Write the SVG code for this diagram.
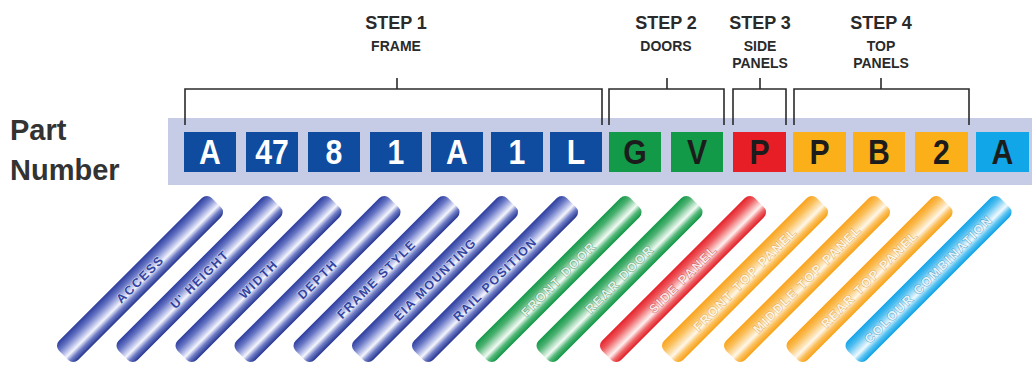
<svg xmlns="http://www.w3.org/2000/svg" width="1032" height="367" viewBox="0 0 1032 367">
<style>
  .lbl{font-family:"Liberation Sans",Arial,sans-serif;font-weight:bold;fill:#2a2a2a;text-anchor:middle}
  .step{font-size:18px}
  .sub{font-size:14px}
  .pn{font-family:"Liberation Sans",Arial,sans-serif;font-weight:bold;font-size:29px;fill:#333}
  .bx{font-family:"Liberation Sans",Arial,sans-serif;font-weight:bold;font-size:36px;text-anchor:middle}
  .w{fill:#ffffff}
  .k{fill:#1c1c1c}
  .tt{font-family:"Liberation Sans",Arial,sans-serif;font-weight:bold;font-size:12.5px;letter-spacing:1.6px;text-anchor:middle;paint-order:stroke}
  .tb{fill:#3444a0;stroke:#dde1f6;stroke-width:0.9px}
  .tc{fill:#ffffff;fill-opacity:0.8;stroke-opacity:0.6;stroke-width:1px}
  .br{fill:none;stroke:#2b2b2b;stroke-width:1.6}
</style>
<defs>
  <rect id="tube" x="-108" y="-13.5" width="216" height="27" rx="7"/>
  <linearGradient id="gB" x1="0" y1="0" x2="0" y2="1">
    <stop offset="0" stop-color="#2d3d9e"/><stop offset="0.25" stop-color="#6675c4"/>
    <stop offset="0.5" stop-color="#c4caee"/><stop offset="0.62" stop-color="#f4f5fc"/>
    <stop offset="0.8" stop-color="#6f7cc6"/><stop offset="1" stop-color="#25358f"/>
  </linearGradient>
  <linearGradient id="gG" x1="0" y1="0" x2="0" y2="1">
    <stop offset="0" stop-color="#14994a"/><stop offset="0.25" stop-color="#4db272"/>
    <stop offset="0.5" stop-color="#bfe5cc"/><stop offset="0.62" stop-color="#f2faf4"/>
    <stop offset="0.8" stop-color="#55b87a"/><stop offset="1" stop-color="#109444"/>
  </linearGradient>
  <linearGradient id="gR" x1="0" y1="0" x2="0" y2="1">
    <stop offset="0" stop-color="#e5222a"/><stop offset="0.25" stop-color="#ee5a5e"/>
    <stop offset="0.5" stop-color="#f8c2c2"/><stop offset="0.62" stop-color="#fef0f0"/>
    <stop offset="0.8" stop-color="#ef6a6c"/><stop offset="1" stop-color="#e11c24"/>
  </linearGradient>
  <linearGradient id="gO" x1="0" y1="0" x2="0" y2="1">
    <stop offset="0" stop-color="#f9a31c"/><stop offset="0.25" stop-color="#fbbd55"/>
    <stop offset="0.5" stop-color="#fde3b4"/><stop offset="0.62" stop-color="#fff7ea"/>
    <stop offset="0.8" stop-color="#fbc160"/><stop offset="1" stop-color="#f8a014"/>
  </linearGradient>
  <linearGradient id="gC" x1="0" y1="0" x2="0" y2="1">
    <stop offset="0" stop-color="#12a4e8"/><stop offset="0.25" stop-color="#52bff0"/>
    <stop offset="0.5" stop-color="#bfe7fa"/><stop offset="0.62" stop-color="#eef9fe"/>
    <stop offset="0.8" stop-color="#5ac3f1"/><stop offset="1" stop-color="#0e9fe4"/>
  </linearGradient>
</defs>
<rect width="1032" height="367" fill="#ffffff"/>

<g id="labels">
  <text class="lbl step" x="396" y="28.5">STEP 1</text>
  <text class="lbl sub" x="396" y="51">FRAME</text>
  <text class="lbl step" x="666" y="28.5">STEP 2</text>
  <text class="lbl sub" x="666" y="51">DOORS</text>
  <text class="lbl step" x="760" y="28.5">STEP 3</text>
  <text class="lbl sub" x="760" y="51">SIDE</text>
  <text class="lbl sub" x="760" y="68">PANELS</text>
  <text class="lbl step" x="881" y="28.5">STEP 4</text>
  <text class="lbl sub" x="881" y="51">TOP</text>
  <text class="lbl sub" x="881" y="68">PANELS</text>
  <text class="pn" x="10" y="140">Part</text>
  <text class="pn" x="10" y="180">Number</text>
</g>

<rect id="band" x="168" y="118" width="864" height="67" fill="#c6cbe6"/>

<g id="connectors">
  <path class="br" d="M185,125 V89 H602 V125 M397,89 V78"/>
  <path class="br" d="M609,125 V89 H724 V125 M667,89 V78"/>
  <path class="br" d="M733,125 V89 H786 V125 M760,89 V78"/>
  <path class="br" d="M794,125 V89 H969 V125 M881,89 V78"/>
</g>

<g id="box1"><rect x="184" y="132" width="52" height="40" fill="#0f4ca0"/><text class="bx w" transform="translate(210,164) scale(0.84,1)">A</text></g>
<g id="box2"><rect x="246" y="132" width="52" height="40" fill="#0f4ca0"/><text class="bx w" transform="translate(272,164) scale(0.84,1)">47</text></g>
<g id="box3"><rect x="308" y="132" width="52" height="40" fill="#0f4ca0"/><text class="bx w" transform="translate(334,164) scale(0.84,1)">8</text></g>
<g id="box4"><rect x="370" y="132" width="52" height="40" fill="#0f4ca0"/><text class="bx w" transform="translate(396,164) scale(0.84,1)">1</text></g>
<g id="box5"><rect x="431" y="132" width="52" height="40" fill="#0f4ca0"/><text class="bx w" transform="translate(457,164) scale(0.84,1)">A</text></g>
<g id="box6"><rect x="491" y="132" width="52" height="40" fill="#0f4ca0"/><text class="bx w" transform="translate(517,164) scale(0.84,1)">1</text></g>
<g id="box7"><rect x="550" y="132" width="52" height="40" fill="#0f4ca0"/><text class="bx w" transform="translate(576,164) scale(0.84,1)">L</text></g>
<g id="box8"><rect x="609" y="132" width="52" height="40" fill="#139a48"/><text class="bx k" transform="translate(635,164) scale(0.84,1)">G</text></g>
<g id="box9"><rect x="671" y="132" width="52" height="40" fill="#139a48"/><text class="bx k" transform="translate(697,164) scale(0.84,1)">V</text></g>
<g id="box10"><rect x="733" y="132" width="53" height="40" fill="#e81e26"/><text class="bx k" transform="translate(759.5,164) scale(0.84,1)">P</text></g>
<g id="box11"><rect x="793" y="132" width="53" height="40" fill="#fbb01a"/><text class="bx k" transform="translate(819.5,164) scale(0.84,1)">P</text></g>
<g id="box12"><rect x="853" y="132" width="52" height="40" fill="#fbb01a"/><text class="bx k" transform="translate(879,164) scale(0.84,1)">B</text></g>
<g id="box13"><rect x="915" y="132" width="53" height="40" fill="#fbb01a"/><text class="bx k" transform="translate(941.5,164) scale(0.84,1)">2</text></g>
<g id="box14"><rect x="976" y="132" width="53" height="40" fill="#10a6e8"/><text class="bx k" transform="translate(1002.5,164) scale(0.84,1)">A</text></g>

<g id="tube1" transform="translate(140,279) rotate(-45)"><use href="#tube" fill="url(#gB)"/><text class="tt tb" x="0" y="4.5">ACCESS</text></g>
<g id="tube2" transform="translate(199.5,279) rotate(-45)"><use href="#tube" fill="url(#gB)"/><text class="tt tb" x="0" y="4.5">U' HEIGHT</text></g>
<g id="tube3" transform="translate(258.5,279) rotate(-45)"><use href="#tube" fill="url(#gB)"/><text class="tt tb" x="0" y="4.5">WIDTH</text></g>
<g id="tube4" transform="translate(317.5,279) rotate(-45)"><use href="#tube" fill="url(#gB)"/><text class="tt tb" x="0" y="4.5">DEPTH</text></g>
<g id="tube5" transform="translate(376.5,279) rotate(-45)"><use href="#tube" fill="url(#gB)"/><text class="tt tb" x="0" y="4.5">FRAME STYLE</text></g>
<g id="tube6" transform="translate(435,279) rotate(-45)"><use href="#tube" fill="url(#gB)"/><text class="tt tb" x="0" y="4.5">EIA MOUNTING</text></g>
<g id="tube7" transform="translate(495,279) rotate(-45)"><use href="#tube" fill="url(#gB)"/><text class="tt tb" x="0" y="4.5">RAIL POSITION</text></g>
<g id="tube8" transform="translate(558.5,279) rotate(-45)"><use href="#tube" fill="url(#gG)"/><text class="tt tc" x="0" y="4.5" stroke="#0d7a38">FRONT DOOR</text></g>
<g id="tube9" transform="translate(619.5,279) rotate(-45)"><use href="#tube" fill="url(#gG)"/><text class="tt tc" x="0" y="4.5" stroke="#0d7a38">REAR DOOR</text></g>
<g id="tube10" transform="translate(683,279) rotate(-45)"><use href="#tube" fill="url(#gR)"/><text class="tt tc" x="0" y="4.5" stroke="#b8141a">SIDE PANEL</text></g>
<g id="tube11" transform="translate(745,279) rotate(-45)"><use href="#tube" fill="url(#gO)"/><text class="tt tc" x="0" y="4.5" stroke="#d98a08">FRONT TOP PANEL</text></g>
<g id="tube12" transform="translate(807,279) rotate(-45)"><use href="#tube" fill="url(#gO)"/><text class="tt tc" x="0" y="4.5" stroke="#d98a08">MIDDLE TOP PANEL</text></g>
<g id="tube13" transform="translate(869.5,279) rotate(-45)"><use href="#tube" fill="url(#gO)"/><text class="tt tc" x="0" y="4.5" stroke="#d98a08">REAR TOP PANEL</text></g>
<g id="tube14" transform="translate(928.5,279) rotate(-45)"><use href="#tube" fill="url(#gC)"/><text class="tt tc" x="0" y="4.5" stroke="#0b7fb8">COLOUR COMBINATION</text></g>
</svg>
